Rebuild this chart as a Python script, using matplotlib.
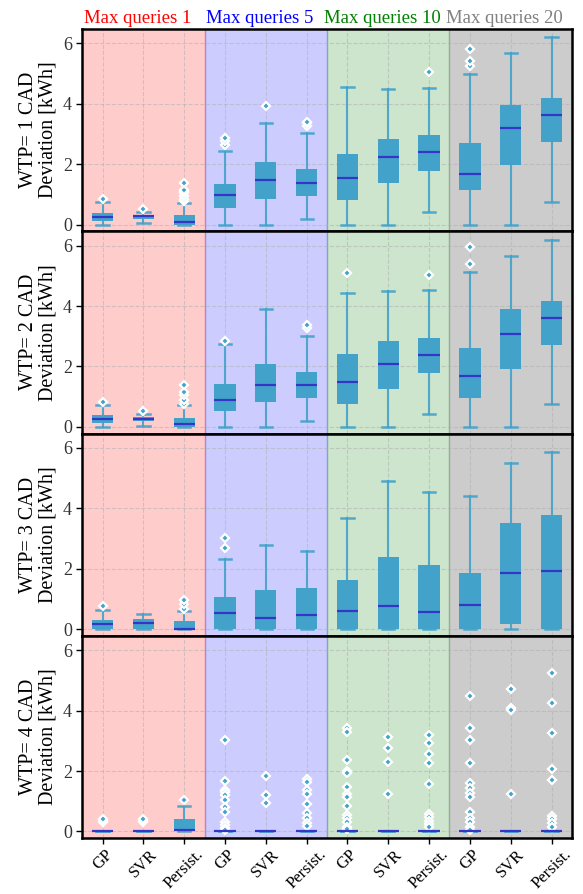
"""Box plots of deviation per WTP level and max-query budget."""

import matplotlib

matplotlib.use("Agg")
import matplotlib.pyplot as plt

plt.rcParams["font.family"] = ["Liberation Serif", "DejaVu Serif"]
plt.rcParams["axes.unicode_minus"] = False

METHODS = ["GP", "SVR", "Persist."]
QUERY_GROUPS = ["Max queries 1", "Max queries 5", "Max queries 10", "Max queries 20"]
GROUP_COLORS = ["red", "blue", "green", "gray"]
GROUP_ALPHAS = [0.2, 0.2, 0.2, 0.4]
WTP_LEVELS = [1, 2, 3, 4]

# one row per WTP level, 12 boxes per row (GP, SVR, Persist. x 4 query budgets)
MEDIANS = [
    [0.25, 0.27, 0.10, 0.97, 1.47, 1.38, 1.55, 2.25, 2.39, 1.69, 3.20, 3.62],
    [0.25, 0.25, 0.11, 0.88, 1.37, 1.37, 1.49, 2.09, 2.39, 1.68, 3.09, 3.62],
    [0.18, 0.20, 0.01, 0.54, 0.37, 0.46, 0.61, 0.76, 0.57, 0.81, 1.86, 1.91],
    [0.0, 0.0, 0.06, 0.0, 0.0, 0.0, 0.0, 0.0, 0.0, 0.0, 0.0, 0.0],
]
Q1 = [
    [0.13, 0.19, 0.0, 0.56, 0.86, 0.96, 0.80, 1.39, 1.79, 1.13, 1.96, 2.72],
    [0.14, 0.18, 0.0, 0.51, 0.83, 0.94, 0.77, 1.27, 1.77, 0.94, 1.90, 2.70],
    [0.02, 0.02, 0.0, 0.0, 0.0, 0.0, 0.0, 0.0, 0.0, 0.0, 0.18, 0.0],
    [0.0, 0.0, 0.0, 0.0, 0.0, 0.0, 0.0, 0.0, 0.0, 0.0, 0.0, 0.0],
]
Q3 = [
    [0.39, 0.32, 0.32, 1.35, 2.07, 1.83, 2.34, 2.84, 2.97, 2.71, 3.97, 4.20],
    [0.40, 0.32, 0.29, 1.43, 2.08, 1.81, 2.42, 2.85, 2.95, 2.62, 3.91, 4.18],
    [0.29, 0.32, 0.26, 1.05, 1.28, 1.35, 1.64, 2.38, 2.14, 1.87, 3.53, 3.79],
    [0.0, 0.0, 0.40, 0.0, 0.0, 0.0, 0.0, 0.0, 0.0, 0.0, 0.0, 0.0],
]
WHISK_LO = [
    [0.0, 0.06, 0.0, 0.0, 0.0, 0.19, 0.0, 0.0, 0.41, 0.0, 0.0, 0.75],
    [0.0, 0.04, 0.0, 0.0, 0.0, 0.18, 0.0, 0.0, 0.41, 0.0, 0.0, 0.75],
    [0.0, 0.0, 0.0, 0.0, 0.0, 0.0, 0.0, 0.0, 0.0, 0.0, 0.0, 0.0],
    [0.0, 0.0, 0.0, 0.0, 0.0, 0.0, 0.0, 0.0, 0.0, 0.0, 0.0, 0.0],
]
WHISK_HI = [
    [0.74, 0.43, 0.71, 2.43, 3.38, 3.02, 4.55, 4.49, 4.54, 4.98, 5.70, 6.20],
    [0.74, 0.44, 0.71, 2.74, 3.92, 3.01, 4.43, 4.49, 4.53, 5.12, 5.65, 6.19],
    [0.64, 0.51, 0.61, 2.33, 2.79, 2.58, 3.69, 4.90, 4.54, 4.41, 5.50, 5.87],
    [0.0, 0.0, 0.84, 0.0, 0.0, 0.0, 0.0, 0.0, 0.0, 0.0, 0.0, 0.0],
]
FLIERS = [
    [
        [0.85], [0.52], [0.78, 0.85, 0.95, 1.05, 1.10, 1.15, 1.39],
        [2.64, 2.78, 2.86], [3.93], [3.26, 3.36, 3.41],
        [], [], [5.04],
        [5.24, 5.41, 5.82], [], [],
    ],
    [
        [0.84], [0.51], [0.76, 0.90, 1.04, 1.14, 1.39],
        [2.85], [], [3.28, 3.38],
        [5.09], [], [5.03],
        [5.40, 5.97], [], [],
    ],
    [
        [0.77], [], [0.68, 0.83, 0.95],
        [2.68, 3.01], [], [],
        [], [], [],
        [], [], [],
    ],
    [
        [0.30, 0.38, 0.42], [0.30, 0.35, 0.40], [1.04],
        [3.02, 1.66, 1.38, 1.29, 1.19, 1.03, 0.81, 0.63, 0.31, 0.21, 0.10, 0.03],
        [1.83, 1.22, 0.95],
        [1.73, 1.62, 1.36, 1.23, 0.91, 0.62, 0.44, 0.29, 0.17],
        [3.43, 3.28, 2.36, 2.00, 1.93, 1.47, 1.24, 1.13, 0.83, 0.55, 0.44, 0.31, 0.14, 0.07],
        [3.14, 2.75, 2.31, 1.24],
        [3.18, 2.94, 2.55, 2.25, 1.56, 0.56, 0.48, 0.36, 0.25, 0.13],
        [4.49, 3.44, 3.03, 2.25, 1.60, 1.43, 1.26, 1.13, 0.64, 0.46, 0.30, 0.14, 0.03],
        [4.73, 4.10, 4.01, 1.24],
        [5.26, 4.24, 3.26, 2.08, 1.70, 0.51, 0.42, 0.28, 0.14],
    ],
]

BOX_COLOR = "#43a2ca"
MEDIAN_COLOR = "#3535c8"


def _stats(row: int) -> list[dict]:
    out = []
    for j in range(len(MEDIANS[row])):
        out.append(
            dict(
                med=MEDIANS[row][j],
                q1=Q1[row][j],
                q3=Q3[row][j],
                whislo=WHISK_LO[row][j],
                whishi=WHISK_HI[row][j],
                fliers=FLIERS[row][j],
            )
        )
    return out


fig, axes = plt.subplots(4, 1, figsize=(5.83, 8.94), dpi=100, sharex=True)
fig.subplots_adjust(left=0.141, right=0.981, top=0.9676, bottom=0.0626, hspace=0)

n_methods = len(METHODS)
positions = list(range(n_methods * len(QUERY_GROUPS)))

for row, ax in enumerate(axes):
    for g, (color, alpha) in enumerate(zip(GROUP_COLORS, GROUP_ALPHAS)):
        ax.axvspan(g * n_methods - 0.5, (g + 1) * n_methods - 0.5,
                   color=color, alpha=alpha, lw=1, zorder=0)

    ax.bxp(
        _stats(row),
        positions=positions,
        widths=0.52,
        patch_artist=True,
        manage_ticks=False,
        boxprops=dict(facecolor=BOX_COLOR, edgecolor=BOX_COLOR, linewidth=0),
        whiskerprops=dict(color=BOX_COLOR, linewidth=1.5, alpha=0.9),
        capprops=dict(color=BOX_COLOR, linewidth=1.8, alpha=0.9),
        capwidths=0.3,
        medianprops=dict(color=MEDIAN_COLOR, linewidth=1.6),
        flierprops=dict(marker="D", markersize=4.2, markerfacecolor=BOX_COLOR,
                        markeredgecolor="white", markeredgewidth=1.6),
    )

    ax.set_xlim(-0.5, positions[-1] + 0.5)
    ax.set_ylim(-0.22, 6.48)
    ax.set_yticks([0, 2, 4, 6])
    ax.grid(True, ls="--", color="#b0b0b0", lw=0.8, alpha=0.55)
    ax.set_axisbelow(True)
    ax.tick_params(axis="y", labelsize=13, labelcolor="#333333", length=4, width=1)
    ax.tick_params(axis="x", length=4, width=1, pad=2)
    ax.set_ylabel(f"WTP= {WTP_LEVELS[row]} CAD\nDeviation [kWh]", fontsize=14.5,
                  linespacing=1.0)
    for side in ax.spines.values():
        side.set_linewidth(1.8)
        side.set_color("black")

axes[-1].set_xticks(positions)
axes[-1].set_xticklabels(METHODS * len(QUERY_GROUPS), rotation=45, fontsize=12,
                         ha="center", rotation_mode="default")

for g, (label, color) in enumerate(zip(QUERY_GROUPS, GROUP_COLORS)):
    axes[0].text(g * n_methods + 0.85, 6.55, label, color=color, fontsize=13.5,
                 ha="center", va="bottom")

fig.savefig("out.png", dpi=100)
